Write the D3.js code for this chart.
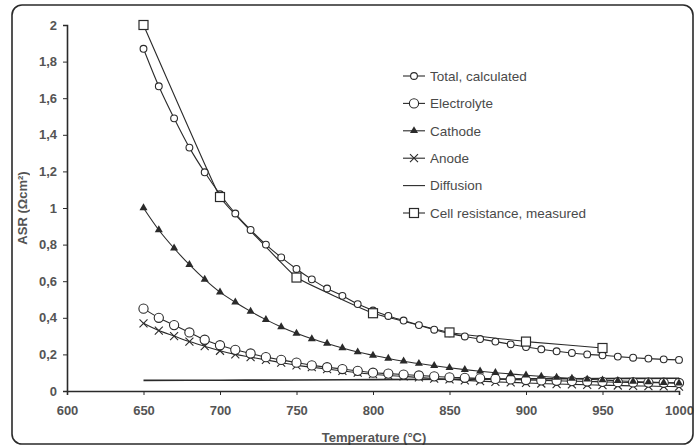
<!DOCTYPE html>
<html><head><meta charset="utf-8">
<script src="https://cdn.jsdelivr.net/npm/d3@7"></script>
<style>
html,body{margin:0;padding:0;background:#fff;}
svg{display:block;font-family:"Liberation Sans",Arial,sans-serif;}
</style></head>
<body><svg id="c" width="695" height="446"></svg>
<script>
const temps = [650,660,670,680,690,700,710,720,730,740,750,760,770,780,790,800,810,820,830,840,850,860,870,880,890,900,910,920,930,940,950,960,970,980,990,1000];
const total = [1.87,1.665,1.49,1.33,1.195,1.075,0.97,0.88,0.80,0.73,0.667,0.61,0.56,0.52,0.475,0.44,0.41,0.385,0.36,0.335,0.315,0.298,0.284,0.27,0.255,0.24,0.228,0.217,0.208,0.2,0.195,0.188,0.182,0.177,0.173,0.17];
const electrolyte = [0.45,0.40,0.36,0.32,0.28,0.25,0.225,0.205,0.185,0.17,0.155,0.14,0.13,0.12,0.11,0.10,0.095,0.09,0.085,0.08,0.075,0.072,0.069,0.066,0.063,0.06,0.058,0.056,0.054,0.052,0.05,0.048,0.047,0.046,0.045,0.044];
const cathode = [1.0,0.88,0.78,0.69,0.61,0.54,0.485,0.435,0.39,0.35,0.315,0.285,0.26,0.235,0.213,0.195,0.178,0.163,0.15,0.138,0.127,0.117,0.108,0.1,0.093,0.086,0.08,0.074,0.069,0.064,0.06,0.056,0.052,0.049,0.046,0.043];
const anode = [0.37,0.33,0.30,0.27,0.245,0.22,0.2,0.185,0.17,0.155,0.14,0.13,0.12,0.11,0.1,0.092,0.085,0.08,0.074,0.068,0.063,0.058,0.054,0.05,0.047,0.044,0.041,0.038,0.036,0.034,0.032,0.03,0.028,0.027,0.025,0.024];
const diffusionT = [650,700,750,800,850,900,950,1000];
const diffusion = [0.058,0.059,0.06,0.062,0.064,0.066,0.068,0.07];
const measuredT = [650,700,750,800,850,900,950];
const measured = [2.0,1.06,0.62,0.425,0.32,0.27,0.235];
const xTicks = [600,650,700,750,800,850,900,950,1000];
const yTicks = [0,0.2,0.4,0.6,0.8,1,1.2,1.4,1.6,1.8,2];
const legendLabels = ["Total, calculated","Electrolyte","Cathode","Anode","Diffusion","Cell resistance, measured"];

const svg = d3.select("#c");
const ink = "#2a2a2a";
const x = d3.scaleLinear().domain([600,1000]).range([67,679]);
const y = d3.scaleLinear().domain([0,2]).range([391,25]);

// frame
svg.append("rect").attr("x",12).attr("y",5).attr("width",681).attr("height",439)
  .attr("rx",10).attr("fill","none").attr("stroke",ink).attr("stroke-width",1.6);

// axes
const fmt = d => d===0 ? "0" : String(+d.toFixed(1)).replace(".",",");
const gy = svg.append("g").attr("transform","translate(67,0)")
  .call(d3.axisLeft(y).tickValues(yTicks).tickFormat(fmt).tickSize(4).tickPadding(6));
const gx = svg.append("g").attr("transform","translate(0,391)")
  .call(d3.axisBottom(x).tickValues(xTicks).tickFormat(d3.format("d")).tickSize(4).tickPadding(11));
[gx,gy].forEach(g=>{
  g.select(".domain").attr("stroke",ink).attr("stroke-width",1.6);
  g.selectAll(".tick line").attr("stroke",ink).attr("stroke-width",1);
  g.selectAll("text").attr("fill",ink).attr("font-size",13)
   .attr("font-family","'Liberation Sans',Arial,sans-serif").attr("font-weight","bold").attr("opacity",0.8);
});

// axis titles
svg.append("text").attr("x",374).attr("y",442).attr("text-anchor","middle")
  .attr("font-size",13).attr("font-weight","bold").attr("fill",ink).attr("opacity",0.8)
  .text("Temperature (°C)");
svg.append("text").attr("transform","translate(27,208) rotate(-90)").attr("text-anchor","middle")
  .attr("font-size",13).attr("font-weight","bold").attr("fill",ink).attr("opacity",0.8)
  .text("ASR (Ωcm²)");

const line = d3.line().curve(d3.curveCatmullRom.alpha(0.5)).x(d=>x(d[0])).y(d=>y(d[1]));
const measLine = d3.line().curve(d3.curveCardinal.tension(0.8)).x(d=>x(d[0])).y(d=>y(d[1]));
const zip = (a,b)=>a.map((t,i)=>[t,b[i]]);
const lineStyle = sel => sel.attr("fill","none").attr("stroke",ink).attr("stroke-width",1.1);

const plot = svg.append("g");
const sDiff = zip(diffusionT,diffusion);
const sMeas = zip(measuredT,measured);
const sTot = zip(temps,total);
const sEl = zip(temps,electrolyte);
const sCat = zip(temps,cathode);
const sAn = zip(temps,anode);

plot.append("path").datum(sDiff).attr("d",line).call(lineStyle).attr("stroke-width",1.6);
[sAn,sEl,sCat,sTot].forEach(s=>plot.append("path").datum(s).attr("d",line).call(lineStyle));
plot.append("path").datum(sMeas).attr("d",measLine).call(lineStyle);

function drawMarker(g, kind, cx, cy){
  if(kind==="total"){
    g.append("circle").attr("cx",cx).attr("cy",cy).attr("r",3.4).attr("fill","#fff").attr("stroke",ink).attr("stroke-width",1.1);
  } else if(kind==="el"){
    g.append("circle").attr("cx",cx).attr("cy",cy).attr("r",4.6).attr("fill","#fff").attr("stroke",ink).attr("stroke-width",1.1);
  } else if(kind==="cat"){
    g.append("path").attr("d",d3.symbol(d3.symbolTriangle,28)()).attr("transform",`translate(${cx},${cy})`).attr("fill",ink);
  } else if(kind==="an"){
    g.append("path").attr("d",`M${cx-4},${cy-4}L${cx+4},${cy+4}M${cx-4},${cy+4}L${cx+4},${cy-4}`).attr("stroke",ink).attr("stroke-width",1.1);
  } else if(kind==="meas"){
    g.append("rect").attr("x",cx-4.5).attr("y",cy-4.5).attr("width",9).attr("height",9).attr("fill","#fff").attr("stroke",ink).attr("stroke-width",1.2);
  }
}
sAn.forEach(d=>drawMarker(plot,"an",x(d[0]),y(d[1])));
sEl.forEach(d=>drawMarker(plot,"el",x(d[0]),y(d[1])));
sCat.forEach(d=>drawMarker(plot,"cat",x(d[0]),y(d[1])));
sTot.forEach(d=>drawMarker(plot,"total",x(d[0]),y(d[1])));
sMeas.forEach(d=>drawMarker(plot,"meas",x(d[0]),y(d[1])));

// legend
const kinds = ["total","el","cat","an","diff","meas"];
const lg = svg.append("g");
legendLabels.forEach((lab,i)=>{
  const yy = 76 + i*27.4;
  lg.append("line").attr("x1",403).attr("x2",425).attr("y1",yy).attr("y2",yy).attr("stroke",ink).attr("stroke-width",1.1);
  if(kinds[i]!=="diff") drawMarker(lg,kinds[i],414,yy);
  lg.append("text").attr("x",430).attr("y",yy).attr("dy","0.36em").attr("font-size",13.5)
    .attr("fill",ink).attr("opacity",0.85).text(lab);
});
</script></body></html>
